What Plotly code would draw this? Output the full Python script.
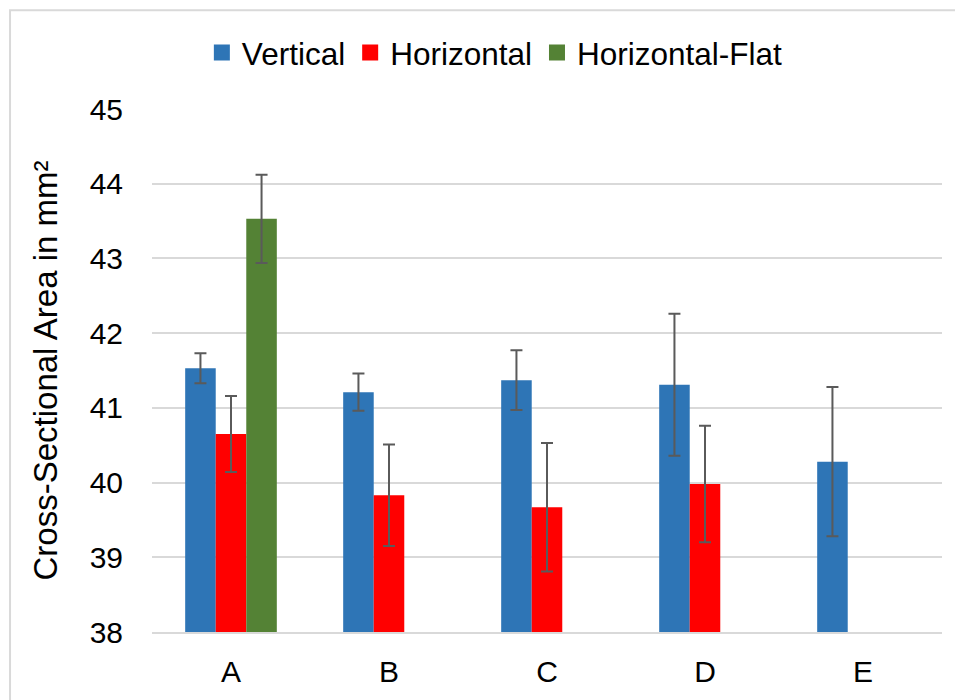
import plotly.graph_objects as go

categories = ["A", "B", "C", "D", "E"]
vertical = [41.53, 41.21, 41.37, 41.31, 40.28]
vertical_err = [0.20, 0.25, 0.40, 0.95, 1.00]
horizontal = [40.65, 39.83, 39.67, 39.98, None]
horizontal_err = [0.51, 0.68, 0.86, 0.78, None]
flat = [43.53, None, None, None, None]
flat_err = [0.59, None, None, None, None]

series_names = ["Vertical", "Horizontal", "Horizontal-Flat"]
colors = ["#2E75B6", "#FF0000", "#548235"]
y_ticks = [38, 39, 40, 41, 42, 43, 44, 45]

FONT = "Liberation Sans, Arial, sans-serif"

fig = go.Figure()
for name, vals, errs, col in zip(series_names, [vertical, horizontal, flat],
                                 [vertical_err, horizontal_err, flat_err], colors):
    fig.add_trace(go.Bar(
        x=categories, y=vals, name=name,
        marker=dict(color=col, line=dict(width=0)),
        error_y=dict(type="data", array=errs, visible=True,
                     color="#5A5A5A", thickness=2, width=6),
        showlegend=False,
    ))
    fig.add_trace(go.Scatter(
        x=[None], y=[None], name=name, mode="markers",
        marker=dict(symbol="square", size=18, color=col),
        showlegend=True,
    ))

fig.update_layout(
    width=955, height=692,
    margin=dict(l=144, r=21, t=101, b=64),
    paper_bgcolor="white", plot_bgcolor="white",
    font=dict(family=FONT, size=30, color="#000000"),
    barmode="group", bargap=0.42, bargroupgap=0,
    legend=dict(orientation="h", x=0.434, xanchor="center", y=1.108, yanchor="middle",
                font=dict(size=31.5, color="#000000"), bgcolor="rgba(0,0,0,0)",
                itemwidth=30),
    xaxis=dict(showgrid=False, showline=True, linecolor="#D9D9D9", linewidth=2,
               ticks="", tickfont=dict(size=30, color="#000000"),
               ticklabelstandoff=12),
    yaxis=dict(range=[38, 45], tickvals=y_ticks, showgrid=True, gridcolor="#D9D9D9",
               gridwidth=2, zeroline=False, showline=False, ticks="",
               tickfont=dict(size=30, color="#000000"), ticklabelstandoff=28,
               title=dict(text="Cross-Sectional Area in mm²", standoff=22,
                          font=dict(size=33, color="#000000"))),
    shapes=[dict(type="path", xref="paper", yref="paper",
                 path="M -0.1797 -0.2 L -0.1797 1.1886 L 1.1 1.1886",
                 line=dict(color="#D9D9D9", width=2))],
)

fig.write_html("out.html")
